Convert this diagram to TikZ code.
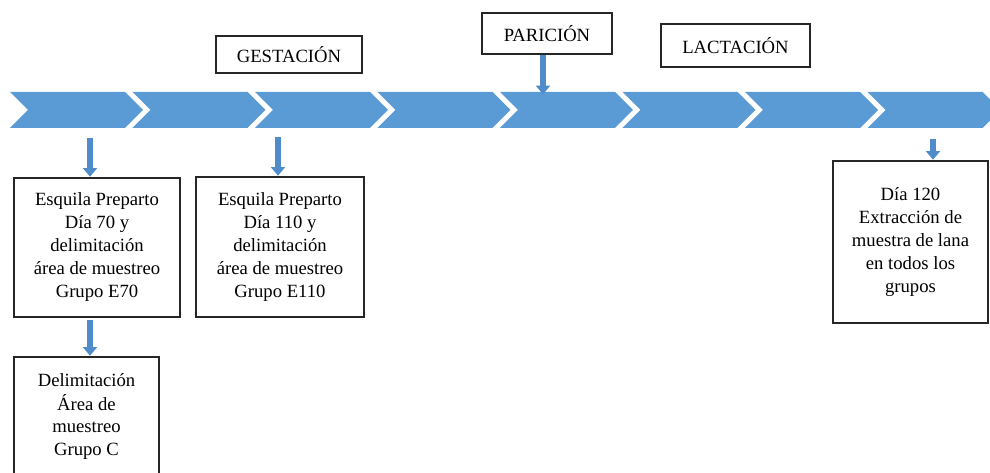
\documentclass[tikz,border=0pt]{standalone}
\usepackage{fontspec}
\setmainfont{Liberation Serif}
\usetikzlibrary{positioning, arrows.meta, calc}

\definecolor{chevronblue}{HTML}{5B9BD5}
\definecolor{arrowblue}{HTML}{4F8CC9}

\begin{document}
\begin{tikzpicture}[
    x=0.75pt, y=-0.75pt,
    etapa/.style={rectangle, draw=black!85, line width=0.9pt, inner sep=0pt, font=\fontsize{14}{17.25}\selectfont, align=center},
    flecha/.style={draw=arrowblue, line width=3.8pt, shorten >=0.5pt, -{Triangle[width=10.5pt, length=6.5pt]}},
    chevron/.style={fill=chevronblue}
]
    \useasboundingbox (0,0) rectangle (990,473);
    \clip (0,0) rectangle (990,473);

    % Linea de tiempo
    \foreach \i in {0,...,7} {
        \fill[chevron] ({10+122.5*\i},92) -- ++(115,0) -- ++(18,18) -- ++(-18,18) -- ++(-115,0) -- ++(18,-18) -- cycle;
    }

    % Etapas
    \node[etapa, minimum width=109.5pt, minimum height=27.75pt] (gestacion) at (289,54.5) {GESTACIÓN};
    \node[etapa, minimum width=97.5pt, minimum height=30.75pt] (paricion) at (547,33.5) {PARICIÓN};
    \node[etapa, minimum width=111.75pt, minimum height=32.25pt] (lactacion) at (735.5,45.5) {LACTACIÓN};

    % Muestreos
    \node[etapa, minimum width=124.5pt, minimum height=104.25pt] (e70) at (97,247.5) {Esquila Preparto\\Día 70 y\\delimitación\\área de muestreo\\Grupo E70};
    \node[etapa, minimum width=126pt, minimum height=105pt] (e110) at (280,247) {Esquila Preparto\\Día 110 y\\delimitación\\área de muestreo\\Grupo E110};
    \node[etapa, minimum width=108.75pt, minimum height=90pt] (grupoc) at (86.5,417) {Delimitación\\Área de\\muestreo\\Grupo C};
    \node[etapa, minimum width=116.25pt, minimum height=121.5pt] (d120) at (910.5,242) {Día 120\\Extracción de\\muestra de lana\\en todos los\\grupos};

    % Flechas
    \coordinate (b70) at (90,138);
    \coordinate (b110) at (278,137);
    \coordinate (p) at (543,95);
    \coordinate (b120) at (933,139);
    \draw[flecha] (b70) -- (b70 |- e70.north);
    \draw[flecha] (b110) -- (b110 |- e110.north);
    \draw[flecha, shorten <=2pt] (e70.south -| b70) -- (b70 |- grupoc.north);
    \draw[flecha] (paricion.south -| p) -- (p);
    \draw[flecha] (b120) -- (b120 |- d120.north);
\end{tikzpicture}
\end{document}
